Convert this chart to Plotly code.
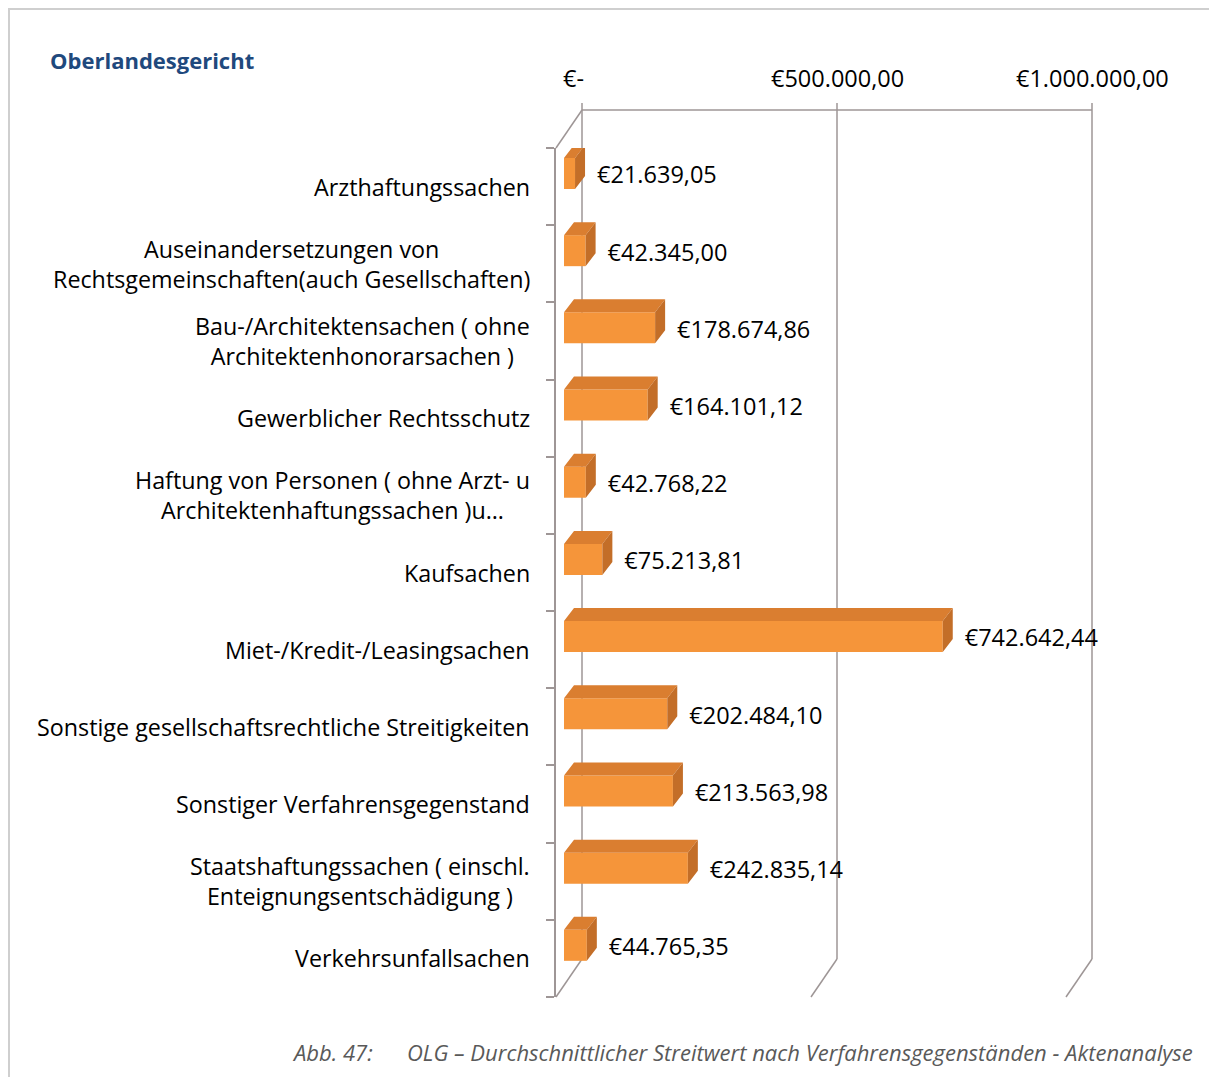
import plotly.graph_objects as go

# ---------------- data ----------------
categories = [
    "Arzthaftungssachen",
    "Auseinandersetzungen von<br>Rechtsgemeinschaften(auch Gesellschaften)",
    "Bau-/Architektensachen ( ohne<br>Architektenhonorarsachen )",
    "Gewerblicher Rechtsschutz",
    "Haftung von Personen ( ohne Arzt- u<br>Architektenhaftungssachen )u…",
    "Kaufsachen",
    "Miet-/Kredit-/Leasingsachen",
    "Sonstige gesellschaftsrechtliche Streitigkeiten",
    "Sonstiger Verfahrensgegenstand",
    "Staatshaftungssachen ( einschl.<br>Enteignungsentschädigung )",
    "Verkehrsunfallsachen",
]
values = [21639.05, 42345.00, 178674.86, 164101.12, 42768.22, 75213.81,
          742642.44, 202484.10, 213563.98, 242835.14, 44765.35]
tick_values = [0, 500000, 1000000]
tick_labels = ["€-\u00a0\u00a0\u00a0", "€500.000,00", "€1.000.000,00"]

title_text = "Oberlandesgericht"
caption_num = "Abb. 47:"
caption_text = "OLG – Durchschnittlicher Streitwert nach Verfahrensgegenständen - Aktenanalyse"

# ---------------- geometry (page pixels) ----------------
PAGE_OFF = 8                  # default body margin of the html page
W, H = 1217, 1077
K = 510 / 1_000_000           # pixels per euro
FRONT_X0, BAR_X0, BACK_X0 = 556, 564, 582
FRONT_TOP, FRONT_BOT = 148, 997
BACK_TOP, BACK_BOT = 110, 959
FRONT_RIGHT = 1120
n = len(categories)
BAND = (FRONT_BOT - FRONT_TOP) / n


def fx(px):
    return (px - PAGE_OFF) / W


def fy(py):
    return 1 - (py - PAGE_OFF) / H


def back_px(v):
    return BACK_X0 + v * K


BAR_OFF = -0.5 + 10 / BAND
BAR_W = 31 / BAND
DX = 10 / K                   # depth in x (euro units)
DY = 13 / BAND                # depth in y (category units)
LINE = "#9e9696"
FONT = "Open Sans"
FS_NUM = 23.5
FS_CAT = 23.3


def de(v):
    s = f"{v:,.2f}"
    return "€" + s.replace(",", "X").replace(".", ",").replace("X", ".")


ypos = list(range(n))

fig = go.Figure()

# front faces
fig.add_trace(go.Bar(
    x=values, y=ypos, orientation="h", base=0,
    offset=BAR_OFF, width=BAR_W,
    marker=dict(color="#F5953A", line=dict(width=0)),
    xaxis="x", yaxis="y", showlegend=False, hoverinfo="skip",
))

# top faces and side faces
tx, ty, sx, sy = [], [], [], []
for i, v in enumerate(values):
    yt = i + BAR_OFF
    yb = yt + BAR_W
    tx += [0, v, v + DX, DX, 0, None]
    ty += [yt, yt, yt - DY, yt - DY, yt, None]
    sx += [v, v + DX, v + DX, v, v, None]
    sy += [yt, yt - DY, yb - DY, yb, yt, None]

fig.add_trace(go.Scatter(x=tx, y=ty, mode="lines", fill="toself",
                         fillcolor="#DA7E30", line=dict(width=0),
                         showlegend=False, hoverinfo="skip"))
fig.add_trace(go.Scatter(x=sx, y=sy, mode="lines", fill="toself",
                         fillcolor="#C36E28", line=dict(width=0),
                         showlegend=False, hoverinfo="skip"))

# data labels
fig.add_trace(go.Scatter(
    x=[v + DX + 12 / K for v in values],
    y=[i + BAR_OFF + BAR_W / 2 + 4 / BAND for i in ypos],
    mode="text", text=[de(v) for v in values], textposition="middle right",
    textfont=dict(family=FONT, size=FS_NUM, color="#000000"),
    showlegend=False, hoverinfo="skip", cliponaxis=False,
))

fig.update_layout(
    xaxis=dict(domain=[fx(FRONT_X0), fx(FRONT_RIGHT)],
               range=[(FRONT_X0 - BAR_X0) / K, (FRONT_RIGHT - BAR_X0) / K],
               visible=False, showgrid=False, zeroline=False, fixedrange=True),
    yaxis=dict(domain=[fy(FRONT_BOT), fy(FRONT_TOP)], range=[n - 0.5, -0.5],
               tickmode="array", tickvals=[i - 0.5 for i in range(n + 1)],
               showticklabels=False, showgrid=False, zeroline=False,
               showline=True, linecolor=LINE, linewidth=1.5, fixedrange=True,
               ticks="outside", ticklen=8, tickcolor=LINE, tickwidth=1.5),
)

shapes = []
# back wall: value grid lines (with tick marks above), top edge
for tv in tick_values:
    shapes.append(dict(type="line", xref="paper", yref="paper", layer="below",
                       x0=fx(back_px(tv)), y0=fy(BACK_TOP - 7),
                       x1=fx(back_px(tv)), y1=fy(BACK_BOT),
                       line=dict(color=LINE, width=1.5)))
    # floor lines
    shapes.append(dict(type="line", xref="paper", yref="paper", layer="below",
                       x0=fx(FRONT_X0 + tv * K), y0=fy(FRONT_BOT),
                       x1=fx(back_px(tv)), y1=fy(BACK_BOT),
                       line=dict(color=LINE, width=1.5)))
shapes.append(dict(type="line", xref="paper", yref="paper", layer="below",
                   x0=fx(back_px(tick_values[0])), y0=fy(BACK_TOP),
                   x1=fx(back_px(tick_values[-1])), y1=fy(BACK_TOP),
                   line=dict(color=LINE, width=1.5)))
# side wall top edge
shapes.append(dict(type="line", xref="paper", yref="paper", layer="below",
                   x0=fx(FRONT_X0), y0=fy(FRONT_TOP), x1=fx(BACK_X0), y1=fy(BACK_TOP),
                   line=dict(color=LINE, width=1.5)))
# outer frame
shapes.append(dict(type="rect", xref="paper", yref="paper",
                   x0=fx(9), y0=fy(9), x1=fx(1240), y1=fy(1100),
                   line=dict(color="#CFCFCF", width=2), fillcolor="rgba(0,0,0,0)"))

annotations = []
for tv, tl in zip(tick_values, tick_labels):
    annotations.append(dict(x=fx(back_px(tv)), y=fy(78), xref="paper", yref="paper",
                            text=tl, showarrow=False, xanchor="center", yanchor="middle",
                            font=dict(family=FONT, size=FS_NUM, color="#000000")))
for i, c in enumerate(categories):
    annotations.append(dict(x=fx(532), xref="paper", y=i, yref="y",
                            text=c, showarrow=False, xanchor="right", yanchor="middle",
                            align="center",
                            font=dict(family=FONT, size=FS_CAT, color="#000000")))
annotations.append(dict(x=fx(48), y=fy(60), xref="paper", yref="paper",
                        text=f"<b>{title_text}</b>",
                        showarrow=False, xanchor="left", yanchor="middle",
                        font=dict(family=FONT, size=22, color="#1F497D")))
annotations.append(dict(x=fx(290), y=fy(1052), xref="paper", yref="paper",
                        text=f"<i>{caption_num}</i>",
                        showarrow=False, xanchor="left", yanchor="middle",
                        font=dict(family=FONT, size=22, color="#595959")))
annotations.append(dict(x=fx(405), y=fy(1052), xref="paper", yref="paper",
                        text=f"<i>{caption_text}</i>",
                        showarrow=False, xanchor="left", yanchor="middle",
                        font=dict(family=FONT, size=22, color="#595959")))

fig.update_layout(
    width=W, height=H, autosize=False,
    margin=dict(l=0, r=0, t=0, b=0),
    paper_bgcolor="#FFFFFF", plot_bgcolor="rgba(0,0,0,0)",
    shapes=shapes, annotations=annotations, showlegend=False,
    font=dict(family=FONT),
)

fig.write_html("out.html")
